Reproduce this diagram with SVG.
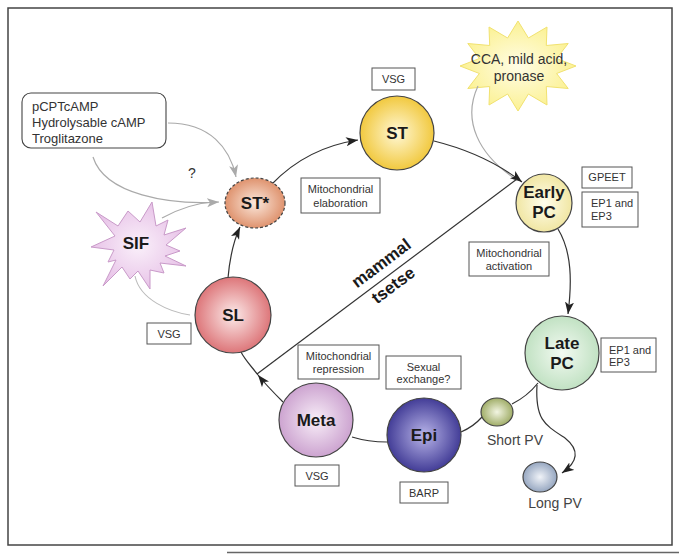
<svg xmlns="http://www.w3.org/2000/svg" width="679" height="554" viewBox="0 0 679 554">
<style>
text{font-family:"Liberation Sans",Arial,sans-serif;}
.node{stroke:#444;stroke-width:1.2;}
.nt{font-weight:bold;fill:#1a1a1a;text-anchor:middle;font-size:17px;}
.lb rect{fill:#fff;stroke:#555;stroke-width:1;}
.lb text{font-size:11px;fill:#333;text-anchor:middle;}
.lb text.l{text-anchor:start;}
.c{fill:none;stroke:#333;stroke-width:1.2;}
.g{fill:none;stroke:#aaa;stroke-width:1.2;}
.gl{fill:none;stroke:#bbb;stroke-width:1.1;}
.pv{font-size:14px;fill:#444;text-anchor:middle;}
</style>
<defs>
<marker id="ah" markerUnits="userSpaceOnUse" markerWidth="14" markerHeight="10" refX="12" refY="4.5" orient="auto">
<path d="M0,0 L12,4.5 L0,9 L3,4.5 z" fill="#222"/>
</marker>
<marker id="ag" markerUnits="userSpaceOnUse" markerWidth="14" markerHeight="10" refX="12" refY="4.5" orient="auto">
<path d="M0,0 L12,4.5 L0,9 L3,4.5 z" fill="#aaa"/>
</marker>
<radialGradient id="gST" cx="50%" cy="50%" r="55%"><stop offset="0" stop-color="#fff8d6"/><stop offset="1" stop-color="#f0c430"/></radialGradient>
<radialGradient id="gSTs" cx="50%" cy="50%" r="55%"><stop offset="0" stop-color="#fbe8dc"/><stop offset="1" stop-color="#dc8a63"/></radialGradient>
<radialGradient id="gSL" cx="50%" cy="50%" r="55%"><stop offset="0" stop-color="#fcebea"/><stop offset="1" stop-color="#da6a6e"/></radialGradient>
<radialGradient id="gMeta" cx="50%" cy="50%" r="55%"><stop offset="0" stop-color="#f8eef8"/><stop offset="1" stop-color="#c89ccc"/></radialGradient>
<radialGradient id="gEpi" cx="50%" cy="50%" r="55%"><stop offset="0" stop-color="#b8b4e8"/><stop offset="1" stop-color="#37318f"/></radialGradient>
<radialGradient id="gLate" cx="50%" cy="50%" r="55%"><stop offset="0" stop-color="#f3faf2"/><stop offset="1" stop-color="#bcdfbe"/></radialGradient>
<radialGradient id="gEarly" cx="50%" cy="50%" r="55%"><stop offset="0" stop-color="#fffdec"/><stop offset="1" stop-color="#efe49c"/></radialGradient>
<radialGradient id="gSPV" cx="50%" cy="50%" r="55%"><stop offset="0" stop-color="#f2f5e2"/><stop offset="1" stop-color="#98a65c"/></radialGradient>
<radialGradient id="gLPV" cx="50%" cy="50%" r="55%"><stop offset="0" stop-color="#f0f3f8"/><stop offset="1" stop-color="#8d9fbb"/></radialGradient>
<radialGradient id="gSIF" cx="50%" cy="50%" r="55%"><stop offset="0" stop-color="#faf0fa"/><stop offset="1" stop-color="#e6bfe6"/></radialGradient>
<radialGradient id="gCCA" cx="50%" cy="50%" r="55%"><stop offset="0" stop-color="#fffde6"/><stop offset="1" stop-color="#fbf08c"/></radialGradient>
</defs>
<rect x="0" y="0" width="679" height="554" fill="#fff"/>
<rect x="8" y="8" width="664" height="537" fill="#fff" stroke="#444" stroke-width="1.5"/>
<line x1="227" y1="552.5" x2="679" y2="552.5" stroke="#666" stroke-width="1.5"/>

<g id="SIF">
<polygon points="96,212 118,226 128,211 140,222 152,202 156,226 168,220 164,235 186,228 166,245 180,251 165,256 186,266 160,263 164,273 150,270 150,289 138,271 130,279 122,267 103,286 116,260 108,262 114,250 91,247 115,236" fill="url(#gSIF)" stroke="#c99ac9" stroke-width="1"/>
<text class="nt" x="136" y="249" font-size="18">SIF</text>
</g>
<g id="CCA">
<polygon points="518,21 528.4,38 547,27 546.3,45.5 568.2,43.5 556.6,58.5 576,66 556.6,73.5 568.2,88.5 546.3,86.5 547,105 528.4,94 518,111 507.6,94 489,105 489.7,86.5 467.8,88.5 479.4,73.5 460,66 479.4,58.5 467.8,43.5 489.7,45.5 489,27 507.6,38" fill="url(#gCCA)" stroke="#f1e270" stroke-width="1"/>
<text x="519" y="64" font-size="14" fill="#333" text-anchor="middle">CCA, mild acid,</text>
<text x="519" y="81" font-size="14" fill="#333" text-anchor="middle">pronase</text>
</g>
<g id="inducers">
<rect x="22" y="93" width="144" height="55" rx="9" fill="#fff" stroke="#444" stroke-width="1.1"/>
<text x="32" y="111" font-size="13" fill="#333">pCPTcAMP</text>
<text x="32" y="127" font-size="13" fill="#333">Hydrolysable cAMP</text>
<text x="32" y="143" font-size="13" fill="#333">Troglitazone</text>
</g>
<text id="q" x="192" y="178" font-size="14" fill="#333" text-anchor="middle">?</text>

<g id="connectors">
<path class="g" d="M168,123 C210,123 230,148 236,177" marker-end="url(#ag)"/>
<path class="g" d="M93,157 C105,195 170,205 219,202" marker-end="url(#ag)"/>
<path class="g" d="M162,218 C180,208 198,203 214,202"/>
<path class="gl" d="M135,276 C140,300 170,312 190,315"/>
<path class="g" d="M478,86 C462,120 478,155 517,180"/>
<path class="c" d="M228,278 C230,255 234,240 240,227" marker-end="url(#ah)"/>
<path class="c" d="M272,184 C295,160 325,145 358,140" marker-end="url(#ah)"/>
<path class="c" d="M434,141 C470,150 500,165 522,182" marker-end="url(#ah)"/>
<path class="c" d="M257,374 L517,179"/>
<path class="c" d="M558,229 C572,252 572,282 568,314" marker-end="url(#ah)"/>
<path class="c" d="M538,383 C530,393 520,400 512,404"/>
<path class="c" d="M482,417 C475,425 468,429 461,432"/>
<path class="c" d="M387,442 C375,442 365,441 352,437"/>
<path class="c" d="M283,402 C275,394 266,385 258,375" marker-end="url(#ah)"/>
<path class="c" d="M258,375 C252,367 245,360 241,352"/>
<path class="c" d="M537,385 C535,420 545,425 565,438 C580,450 578,462 562,473" marker-end="url(#ah)"/>
<text transform="translate(381,263) rotate(-37)" y="6" font-size="17" font-weight="bold" fill="#1a1a1a" text-anchor="middle">mammal</text>
<text transform="translate(393,285) rotate(-37)" y="6" font-size="17" font-weight="bold" fill="#1a1a1a" text-anchor="middle">tsetse</text>
</g>

<g id="ST">
<circle class="node" cx="397" cy="133" r="37" fill="url(#gST)"/>
<text class="nt" x="397" y="139">ST</text>
</g>
<g id="STstar">
<ellipse class="node" cx="255" cy="203" rx="30" ry="25" fill="url(#gSTs)" stroke-dasharray="3,2"/>
<text class="nt" x="255" y="209" font-size="16">ST*</text>
</g>
<g id="SL">
<circle class="node" cx="233" cy="315" r="38" fill="url(#gSL)"/>
<text class="nt" x="233" y="321">SL</text>
</g>
<g id="Meta">
<circle class="node" cx="316" cy="420" r="37" fill="url(#gMeta)"/>
<text class="nt" x="316" y="426">Meta</text>
</g>
<g id="Epi">
<circle class="node" cx="424" cy="435" r="37" fill="url(#gEpi)"/>
<text class="nt" x="424" y="441" font-size="18">Epi</text>
</g>
<g id="LatePC">
<circle class="node" cx="562" cy="353" r="37" fill="url(#gLate)"/>
<text class="nt" x="562" y="349">Late</text>
<text class="nt" x="562" y="369">PC</text>
</g>
<g id="EarlyPC">
<ellipse class="node" cx="544" cy="203" rx="28" ry="29" fill="url(#gEarly)"/>
<text class="nt" x="544" y="198" font-size="16">Early</text>
<text class="nt" x="544" y="218" font-size="16">PC</text>
</g>
<g id="ShortPV">
<ellipse class="node" cx="497" cy="412" rx="16" ry="14" fill="url(#gSPV)"/>
<text class="pv" x="515" y="445">Short PV</text>
</g>
<g id="LongPV">
<ellipse class="node" cx="540" cy="477" rx="17" ry="15" fill="url(#gLPV)"/>
<text class="pv" x="555" y="508">Long PV</text>
</g>

<g id="labels" class="lb">
<g id="lbVSG1"><rect x="372" y="68" width="43" height="22"/><text x="393.5" y="83">VSG</text></g>
<g id="lbElab"><rect x="301" y="178" width="79" height="35"/><text x="340.5" y="193">Mitochondrial</text><text x="340.5" y="207">elaboration</text></g>
<g id="lbGPEET"><rect x="582" y="167" width="50" height="21"/><text x="607" y="181">GPEET</text></g>
<g id="lbEP1"><rect x="582" y="192" width="56" height="35"/><text class="l" x="591" y="207">EP1 and</text><text class="l" x="591" y="220">EP3</text></g>
<g id="lbAct"><rect x="469" y="242" width="80" height="34"/><text x="509" y="257">Mitochondrial</text><text x="509" y="270">activation</text></g>
<g id="lbEP2"><rect x="601" y="338" width="55" height="34"/><text class="l" x="609" y="354">EP1 and</text><text class="l" x="609" y="366">EP3</text></g>
<g id="lbRep"><rect x="298" y="345" width="81" height="34"/><text x="338.5" y="360">Mitochondrial</text><text x="338.5" y="373">repression</text></g>
<g id="lbSex"><rect x="386" y="356" width="75" height="33"/><text x="423.5" y="371">Sexual</text><text x="423.5" y="383">exchange?</text></g>
<g id="lbVSG2"><rect x="147" y="323" width="44" height="21"/><text x="169" y="338">VSG</text></g>
<g id="lbVSG3"><rect x="295" y="465" width="44" height="21"/><text x="317" y="480">VSG</text></g>
<g id="lbBARP"><rect x="400" y="482" width="48" height="21"/><text x="424" y="497">BARP</text></g>
</g>
</svg>
